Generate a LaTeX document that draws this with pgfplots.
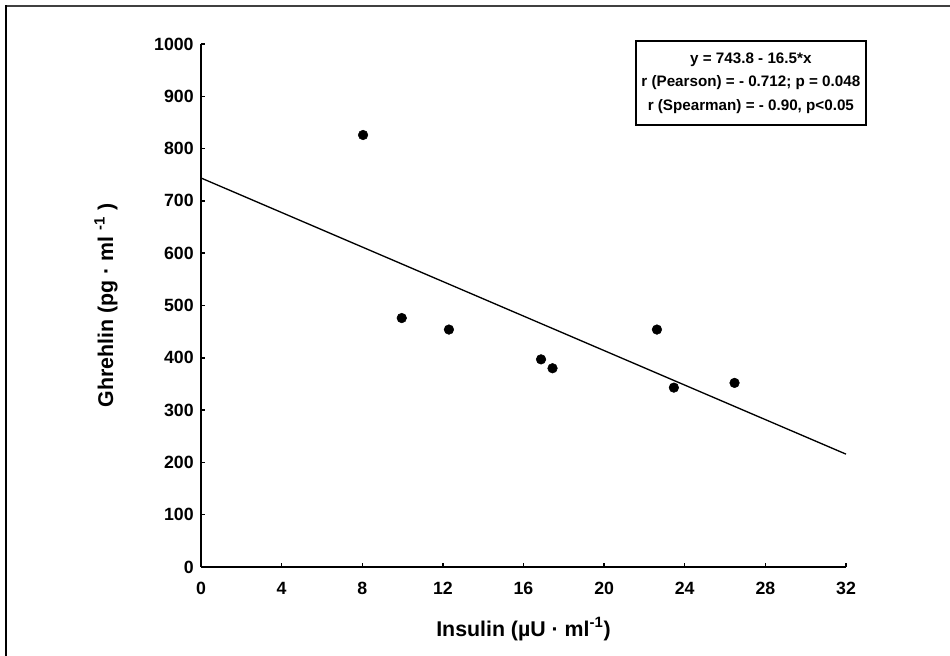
\documentclass[border=0pt]{standalone}
\usepackage{pgfplots}
\pgfplotsset{compat=1.18}
\usepackage{fontspec}
\setmainfont{Liberation Sans}
\begin{document}
\begin{tikzpicture}
\useasboundingbox (-150.75pt,-66.75pt) rectangle (561.75pt,425.25pt);
\fill[white] (-150.75pt,-66.75pt) rectangle (561.75pt,425.25pt);
\draw[line width=1.5pt,black!75] (-146.25pt,420.75pt) -- (561.75pt,420.75pt);
\draw[line width=1.5pt,black] (-146.25pt,-66.75pt) -- (-146.25pt,421.5pt);
\begin{axis}[
  scale only axis,
  width=483.75pt, height=392.25pt,
  xmin=0, xmax=32, ymin=0, ymax=1000,
  xtick={0,4,...,32}, ytick={0,100,...,1000},
  axis x line*=bottom, axis y line*=left,
  axis line style={-, line width=1.3pt},
  tick align=inside,
  major tick length=3pt,
  tick style={line width=1.1pt, black},
  /pgf/number format/assume math mode=true,
  /pgf/number format/1000 sep={},
  ticklabel style={font=\bfseries\fontsize{13.3}{15}\selectfont},
  yticklabel style={xshift=-2pt},
  xticklabel style={text height=9.6pt, text depth=0pt, yshift=-7.5pt},
  xlabel={Insulin (µU · ml\textsuperscript{-1})},
  ylabel={Ghrehlin (pg · ml \textsuperscript{-1} )},
  label style={font=\bfseries\fontsize{16}{19}\selectfont},
  xlabel style={at={(rel axis cs:0.5,0)}, anchor=center, yshift=-46.5pt},
  ylabel style={at={(axis description cs:-0.1473,0.5)}, anchor=center},
  clip=false,
]
\addplot[black, line width=1pt, no markers] coordinates {(0,743.8) (32,215.8)};
\addplot[only marks, mark=*, mark size=3.6pt, black] coordinates {
  (8.04,826) (9.96,476) (12.3,454) (16.87,397) (17.44,380)
  (22.62,454) (23.46,343) (26.47,352)
};
\node[draw, line width=1.1pt, fill=white, minimum width=172.5pt, minimum height=63pt, inner sep=1pt, align=center,
      font=\bfseries\fontsize{11.4}{17.6}\selectfont]
  at (axis cs:27.28,925) {y = 743.8 - 16.5*x\\r (Pearson) = - 0.712; p = 0.048\\r (Spearman) = - 0.90, p<0.05};
\end{axis}
\end{tikzpicture}
\end{document}
